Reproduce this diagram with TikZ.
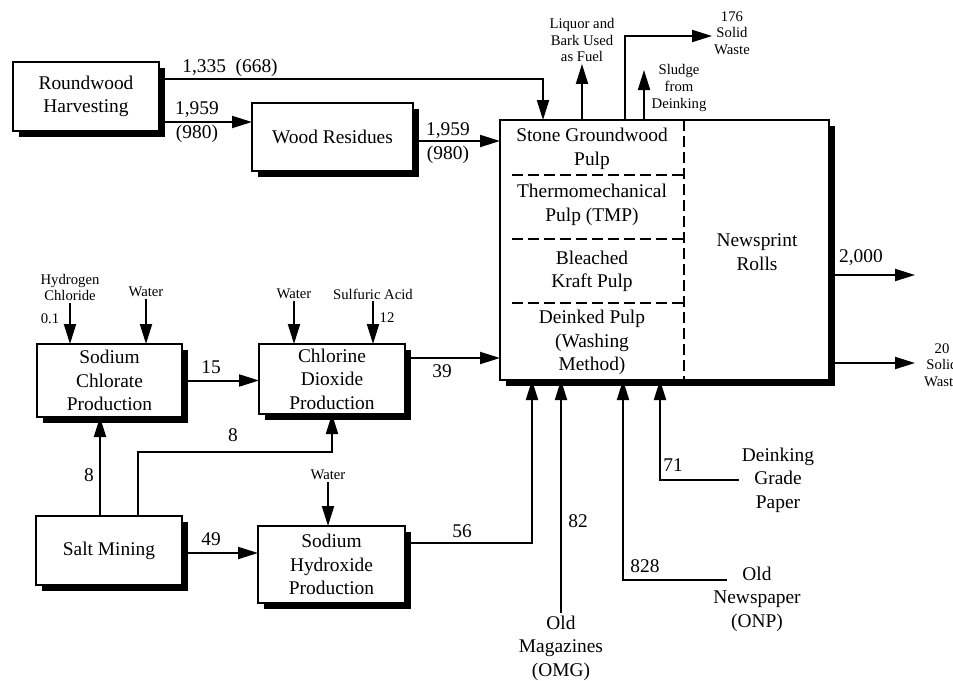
\documentclass[tikz,border=0pt]{standalone}
\usepackage{fontspec}
\setmainfont{Liberation Serif}
\usetikzlibrary{arrows.meta,positioning,shadows}
\newcommand{\bigtext}{\fontsize{19.4pt}{23.5pt}\selectfont}
\newcommand{\smalltext}{\fontsize{14.7pt}{16.6pt}\selectfont}

\begin{document}
\begin{tikzpicture}[x=1pt, y=-1pt,
    proc/.style={
        draw,
        fill=white,
        line width=2.2pt,
        align=center,
        inner xsep=3pt,
        inner ysep=1pt,
        outer sep=0pt,
        font=\bigtext,
        drop shadow={shadow xshift=6pt, shadow yshift=-6pt, fill=black, opacity=1}
    },
    stage/.style={font=\bigtext, align=center, inner sep=3pt},
    qty/.style={font=\bigtext, align=center, inner sep=1pt},
    feed/.style={font=\smalltext, align=center, inner sep=2pt},
    flow/.style={line width=2pt, -{Triangle[length=20pt,width=12pt]}},
    divider/.style={line width=2pt, dash pattern=on 11pt off 5pt}
]
\useasboundingbox (0,0) rectangle (953,680);
% process boxes
\node[proc, minimum width=146pt, minimum height=69pt] (harvest) at (86,96.5) {Roundwood\\Harvesting};
\node[proc, minimum width=161pt, minimum height=68pt] (residue) at (332.5,137) {Wood Residues};
\node[proc, minimum width=329pt, minimum height=260pt] (mill) at (664.5,250) {};
\node[proc, minimum width=145pt, minimum height=73pt] (chlorate) at (109.5,380.5) {Sodium\\Chlorate\\Production};
\node[proc, minimum width=146pt, minimum height=70pt] (dioxide) at (332,379) {Chlorine\\Dioxide\\Production};
\node[proc, minimum width=146pt, minimum height=69pt] (salt) at (109,550.5) {Salt Mining};
\node[proc, minimum width=147pt, minimum height=77pt] (hydroxide) at (331.5,564.5) {Sodium\\Hydroxide\\Production};
% inside the mill
\draw[divider] ([xshift=19.5pt]mill.north) -- ([xshift=19.5pt]mill.south);
\foreach \yy in {175,239,303} \draw[divider] (512,\yy) -- (684,\yy);
\node[stage] (sgw) at (592,149) {Stone Groundwood\\Pulp};
\node[stage] (tmp) at (592,205) {Thermomechanical\\Pulp (TMP)};
\node[stage] (bkp) at (592,271.5) {Bleached\\Kraft Pulp};
\node[stage] (dip) at (592,342.5) {Deinked Pulp\\(Washing\\Method)};
\node[stage] (rolls) at (757,252) {Newsprint\\Rolls};
% feeds and outputs
\node[feed] (fuel) at (582,40) {Liquor and\\Bark Used\\as Fuel};
\node[feed] (waste1) at (732,33) {176\\Solid\\Waste};
\node[feed] (sludge) at (679,88) {Sludge\\from\\Deinking};
\node[feed] (waste2) at (942,365) {20\\Solid\\Waste};
\node[feed] (hcl) at (70,287.5) {Hydrogen\\Chloride};
\node[feed] (water1) at (146,292) {Water};
\node[feed] (water2) at (294,294) {Water};
\node[feed] (acid) at (373,294) {Sulfuric Acid};
\node[feed] (water3) at (328,475) {Water};
\node[feed] (hclq) at (50,319) {0.1};
\node[feed] (acidq) at (387,318) {12};
\node[stage] (omg) at (561,648) {Old\\Magazines\\(OMG)};
\node[stage] (onp) at (757,599) {Old\\Newspaper\\(ONP)};
\node[stage] (dgp) at (778,480) {Deinking\\Grade\\Paper};
% quantities
\node[qty] (q1335) at (230,68) {1,335\enspace(668)};
\node[qty] (q1959a) at (197,122) {1,959\\(980)};
\node[qty] (q1959b) at (448,143) {1,959\\(980)};
\node[qty] (q15) at (211,367) {15};
\node[qty] (q39) at (442,371) {39};
\node[qty] (q8a) at (89,475) {8};
\node[qty] (q8b) at (233,435) {8};
\node[qty] (q49) at (211,539) {49};
\node[qty] (q56) at (462,531) {56};
\node[qty] (q82) at (578,521) {82};
\node[qty] (q828) at (645,566) {828};
\node[qty] (q71) at (673,465) {71};
\node[qty] (q2000) at (861,258) {2,000};
% wood
\draw[flow] ([yshift=17.5pt]harvest.east) -| ([xshift=-121.5pt]mill.north);
\draw[flow] ([yshift=-25.5pt]harvest.east) -- ([yshift=15pt]residue.west);
\draw[flow] ([yshift=-4pt]residue.east) -- ([yshift=109pt]mill.west);
% mill outputs
\coordinate (sludgetop) at (644,70);
\coordinate (rollsout) at (915,275);
\coordinate (wasteout) at (915,363);
\draw[flow] (fuel |- mill.north) -- (fuel.south);
\draw[flow] ([xshift=-39.5pt]mill.north) |- ([yshift=-3pt]waste1.west);
\draw[flow] (sludgetop |- mill.north) -- (sludgetop);
\draw[flow] (rollsout -| mill.east) -- (rollsout);
\draw[flow] (wasteout -| mill.east) -- (wasteout);
% chemicals
\draw[flow] (hcl.south) -- (hcl.south |- chlorate.north);
\draw[flow] (water1.south) -- (water1.south |- chlorate.north);
\draw[flow] (water2.south) -- (water2.south |- dioxide.north);
\draw[flow] (acid.south) -- (acid.south |- dioxide.north);
\draw[flow] (water3.south) -- (water3.south |- hydroxide.north);
\draw[flow] (chlorate.east) -- (chlorate.east -| dioxide.west);
\draw[flow] ([yshift=21pt]dioxide.east) -- ([yshift=-108pt]mill.west);
\coordinate (saltbend) at (138,452);
\draw[flow] ([xshift=-9pt]salt.north) -- ([xshift=-9.5pt]chlorate.south);
\draw[flow] (saltbend |- salt.north) -- (saltbend) -| (dioxide.south);
\draw[flow] ([yshift=-2.5pt]salt.east) -- ([yshift=11.5pt]hydroxide.west);
\draw[flow] ([yshift=21.5pt]hydroxide.east) -| ([xshift=-132.5pt]mill.south);
% recovered paper
\coordinate (onpfrom) at (727,580);
\draw[flow] (omg.north) -- (omg.north |- mill.south);
\draw[flow] (onpfrom) -| ([xshift=-41.5pt]mill.south);
\draw[flow] (dgp.west) -| ([xshift=-4.5pt]mill.south);
\end{tikzpicture}
\end{document}
